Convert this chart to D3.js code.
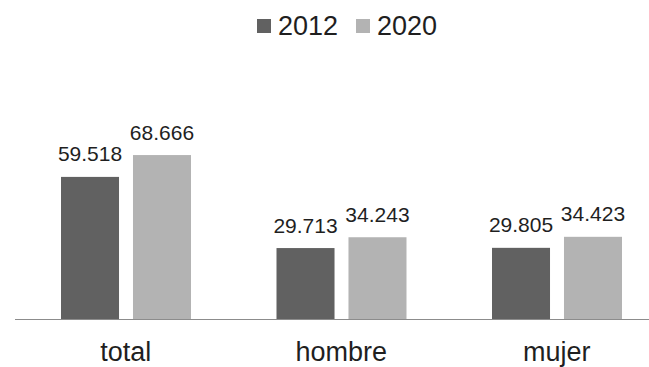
<!DOCTYPE html>
<html>
<head>
<meta charset="utf-8">
<script src="https://cdn.jsdelivr.net/npm/d3@7"></script>
<style>
  body { margin: 0; background: #fff; }
  svg { display: block; font-family: "Liberation Sans", Arial, sans-serif; }
</style>
</head>
<body>
<svg id="chart" width="649" height="367"></svg>
<script>
// data
const categories = ['total', 'hombre', 'mujer'];
const seriesNames = ['2012', '2020'];
const values2012 = [59.518, 29.713, 29.805];
const values2020 = [68.666, 34.243, 34.423];
const seriesColors = ['#616161', '#b3b3b3'];

const width = 649;
const height = 367;
const baseY = 319;

const svg = d3.select('#chart');

// rows for the grouped bars
const data = categories.map((c, i) => ({
    category: c,
    values: [
        { series: seriesNames[0], value: values2012[i] },
        { series: seriesNames[1], value: values2020[i] }
    ]
}));

const xScale = d3.scaleBand()
    .domain(categories)
    .range([18, 664.5]);

const xInner = d3.scaleBand()
    .domain(seriesNames)
    .range([43, 173])
    .paddingInner(0.194);

const yScale = d3.scaleLinear()
    .domain([0, 80])
    .range([baseY, 128]);

const color = d3.scaleOrdinal()
    .domain(seriesNames)
    .range(seriesColors);

const fmt = d => d.toFixed(3);

// bars
const groups = svg.selectAll('g.group')
    .data(data)
    .enter()
    .append('g')
    .attr('class', 'group')
    .attr('transform', d => `translate(${xScale(d.category)}, 0)`);

groups.selectAll('rect')
    .data(d => d.values)
    .enter()
    .append('rect')
    .attr('x', d => xInner(d.series))
    .attr('y', d => yScale(d.value))
    .attr('width', xInner.bandwidth())
    .attr('height', d => baseY - yScale(d.value))
    .attr('fill', d => color(d.series));

// value labels
groups.selectAll('text.value')
    .data(d => d.values)
    .enter()
    .append('text')
    .attr('class', 'value')
    .attr('x', d => xInner(d.series) + xInner.bandwidth() / 2)
    .attr('y', d => yScale(d.value) - 15.5)
    .attr('text-anchor', 'middle')
    .style('font-size', '21px')
    .style('fill', '#1f1f1f')
    .text(d => fmt(d.value));

// axis line
svg.append('line')
    .attr('x1', 15)
    .attr('x2', width)
    .attr('y1', baseY + 0.5)
    .attr('y2', baseY + 0.5)
    .attr('stroke', '#8c8c8c')
    .attr('stroke-width', 1.2);

// category labels
svg.selectAll('text.cat')
    .data(categories)
    .enter()
    .append('text')
    .attr('class', 'cat')
    .attr('x', d => xScale(d) + xScale.bandwidth() / 2)
    .attr('y', 361)
    .attr('text-anchor', 'middle')
    .style('font-size', '27px')
    .style('fill', '#1f1f1f')
    .text(d => d);

// legend
const legendX = [257, 356];
const legend = svg.selectAll('g.legend')
    .data(seriesNames)
    .enter()
    .append('g')
    .attr('class', 'legend')
    .attr('transform', (d, i) => `translate(${legendX[i]}, 0)`);

legend.append('rect')
    .attr('x', 0)
    .attr('y', 19)
    .attr('width', 14)
    .attr('height', 14)
    .attr('fill', d => color(d));

legend.append('text')
    .attr('x', 21)
    .attr('y', 35)
    .style('font-size', '27px')
    .style('fill', '#1f1f1f')
    .text(d => d);
</script>
</body>
</html>
